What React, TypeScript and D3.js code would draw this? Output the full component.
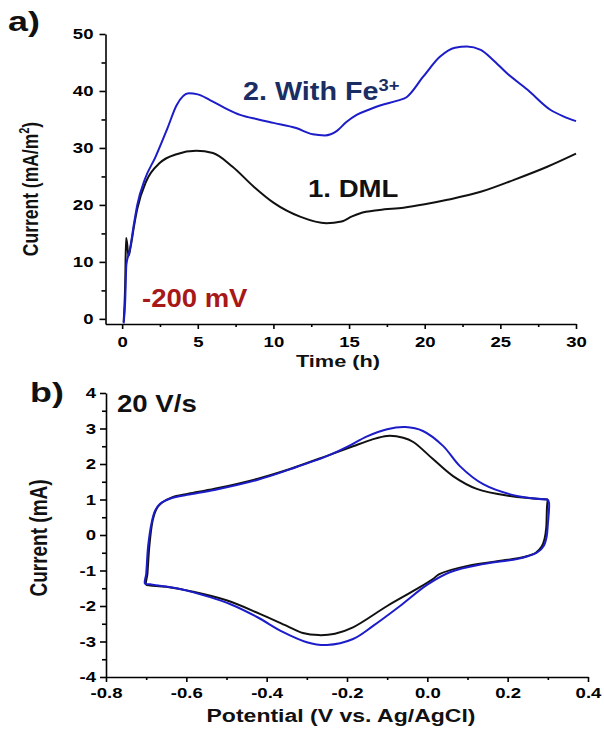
import React, { useEffect, useRef } from "react";
import * as d3 from "d3";

// panel a) current vs time at -200 mV
const timeTicks = [0, 5, 10, 15, 20, 25, 30];
const timeMinorTicks = [2.5, 7.5, 12.5, 17.5, 22.5, 27.5];
const densityTicks = [0, 10, 20, 30, 40, 50];
const densityMinorTicks = [5, 15, 25, 35, 45];

// [time (h), current (mA/m2)]
const dmlSeries: [number, number][] = [
  [0.1, -0.5], [0.2, 6], [0.26, 14.2], [0.33, 13.2], [0.42, 11], [0.55, 12.5],
  [0.8, 16.5], [1.0, 19.3], [1.6, 24.2], [2.5, 27.4], [3.6, 28.9], [4.9, 29.5],
  [6.0, 29.1], [7.3, 26.7], [8.7, 23.2], [10, 20.4], [11.8, 17.9], [13.5, 16.8],
  [14.5, 17.1], [15.2, 18.0], [15.7, 18.5], [17, 19.1], [18.6, 19.5], [20, 20.1],
  [21.5, 20.9], [23.7, 22.3], [25.9, 24.4], [28.1, 26.7], [30, 29],
];
const feSeries: [number, number][] = [
  [0.1, -0.8], [0.2, 3], [0.28, 9.5], [0.5, 12], [0.8, 17], [1.0, 20], [1.5, 24.5],
  [2.2, 28.4], [3.0, 33.5], [3.6, 37.5], [4.4, 39.6], [5.0, 39.4], [5.8, 38.4],
  [6.8, 37], [7.8, 35.8], [9, 35], [10, 34.4], [11.5, 33.5], [12.6, 32.4],
  [13.4, 32.2], [14.2, 33], [14.8, 34.5], [15.5, 35.8], [16.3, 36.7], [17.1, 37.5],
  [18.2, 38.3], [18.8, 38.9], [19.9, 42.5], [21.0, 46], [22.0, 47.6], [22.8, 47.8],
  [23.7, 47.2], [24.5, 45.5], [25.4, 43.2], [26.8, 40.2], [28.3, 36.7], [29.2, 35.5],
  [30, 34.7],
];

// panel b) cyclic voltammetry, 20 V/s
const potentialTicks = [-0.8, -0.6, -0.4, -0.2, 0, 0.2, 0.4];
const potentialMinorTicks = [-0.7, -0.5, -0.3, -0.1, 0.1, 0.3];
const cvCurrentTicks = [-4, -3, -2, -1, 0, 1, 2, 3, 4];
const cvCurrentMinorTicks = [-3.5, -2.5, -1.5, -0.5, 0.5, 1.5, 2.5, 3.5];

// [potential (V), current (mA)]
const cvDml: [number, number][] = [
  [0.3, 1.0], [0.298, 0.8], [0.296, 0.2], [0.292, -0.1], [0.285, -0.32], [0.27, -0.5],
  [0.24, -0.62], [0.2, -0.7], [0.1, -0.87], [0.03, -1.1], [0.014, -1.24], [-0.026, -1.52],
  [-0.1, -2.0], [-0.185, -2.6], [-0.23, -2.78], [-0.27, -2.82], [-0.31, -2.76],
  [-0.35, -2.56], [-0.417, -2.22], [-0.5, -1.84], [-0.583, -1.6], [-0.65, -1.46],
  [-0.69, -1.42], [-0.7, -1.4], [-0.697, -1.1], [-0.692, -0.3], [-0.684, 0.4],
  [-0.675, 0.72], [-0.662, 0.9], [-0.636, 1.06], [-0.595, 1.16], [-0.53, 1.3],
  [-0.424, 1.58], [-0.342, 1.86], [-0.25, 2.23], [-0.185, 2.5], [-0.14, 2.68],
  [-0.1, 2.79], [-0.06, 2.74], [-0.035, 2.62], [0.014, 2.14], [0.064, 1.66],
  [0.123, 1.3], [0.206, 1.1], [0.3, 1.0],
];
const cvFe: [number, number][] = [
  [0.3, 1.0], [0.303, 0.9], [0.3, 0.3], [0.297, -0.05], [0.29, -0.3], [0.275, -0.48],
  [0.25, -0.6], [0.223, -0.68], [0.139, -0.82], [0.056, -1.05], [0.0, -1.4],
  [-0.068, -2.0], [-0.135, -2.56], [-0.185, -2.93], [-0.25, -3.1], [-0.3, -3.02],
  [-0.36, -2.73], [-0.424, -2.31], [-0.49, -1.95], [-0.541, -1.75], [-0.616, -1.52],
  [-0.67, -1.42], [-0.69, -1.39], [-0.703, -1.37], [-0.7, -1.1], [-0.695, -0.3],
  [-0.686, 0.37], [-0.678, 0.68], [-0.666, 0.87], [-0.641, 1.02], [-0.598, 1.13],
  [-0.53, 1.27], [-0.424, 1.55], [-0.342, 1.85], [-0.25, 2.22], [-0.2, 2.48],
  [-0.15, 2.78], [-0.1, 2.98], [-0.055, 3.04], [-0.011, 2.93], [0.039, 2.51],
  [0.081, 1.94], [0.139, 1.43], [0.223, 1.1], [0.3, 1.0],
];

const FONT = "'Liberation Sans', Arial, Helvetica, sans-serif";
const STRETCH = 1.28; // the figure text is a bit wider than normal Arial

export default function App() {
  const ref = useRef<SVGSVGElement>(null);

  useEffect(() => {
    const svg = d3.select(ref.current).html("");

    const styleAxis = (g: any) => {
      g.attr("font-size", 14.5).attr("font-family", FONT).attr("font-weight", "bold");
      g.selectAll("path").attr("stroke", "#000").attr("stroke-width", 1.6);
      g.selectAll("line").attr("stroke", "#000").attr("stroke-width", 1.6);
      g.selectAll("text").attr("fill", "#000");
    };

    const xAxis = (scale: any, y: number, major: number[], minor: number[], fmt: any, pad: number) => {
      const g = svg.append("g").attr("transform", `translate(0,${y})`);
      g.call(d3.axisBottom(scale).tickValues(major).tickFormat(fmt).tickSize(5).tickSizeOuter(0).tickPadding(pad));
      g.append("g")
        .call(d3.axisBottom(scale).tickValues(minor).tickFormat(() => "").tickSize(3).tickSizeOuter(0))
        .select(".domain").remove();
      styleAxis(g);
      g.selectAll(".tick text").attr("transform", `scale(${STRETCH},1)`);
    };

    const yAxis = (scale: any, x: number, major: number[], minor: number[], fmt: any, pad: number) => {
      const g = svg.append("g").attr("transform", `translate(${x},0)`);
      g.call(d3.axisLeft(scale).tickValues(major).tickFormat(fmt).tickSize(6).tickSizeOuter(0).tickPadding(pad));
      g.append("g")
        .call(d3.axisLeft(scale).tickValues(minor).tickFormat(() => "").tickSize(4).tickSizeOuter(0))
        .select(".domain").remove();
      styleAxis(g);
      g.selectAll(".tick text")
        .attr("x", -(6 + pad) / STRETCH)
        .attr("transform", `scale(${STRETCH},1)`);
    };

    const label = (x: number, y: number, size: number, txt: string, color = "#111", sx = STRETCH) =>
      svg.append("text")
        .attr("transform", `translate(${x},${y}) scale(${sx},1)`)
        .attr("font-family", FONT).attr("font-weight", "bold")
        .attr("font-size", size).attr("fill", color)
        .text(txt);

    // ---- panel a ----
    const xA = d3.scaleLinear().domain([-1.1, 30]).range([105.5, 576]);
    const yA = d3.scaleLinear().domain([-0.9, 50]).range([324, 34]);

    xAxis(xA, 324, timeTicks, timeMinorTicks, d3.format("d"), 8);
    yAxis(yA, 105.5, densityTicks, densityMinorTicks, d3.format("d"), 6);

    const lineA = d3.line<[number, number]>()
      .x(d => xA(d[0])).y(d => yA(d[1]))
      .curve(d3.curveMonotoneX);

    svg.append("path").datum(dmlSeries).attr("d", lineA)
      .attr("fill", "none").attr("stroke", "#111").attr("stroke-width", 2);
    svg.append("path").datum(feSeries).attr("d", lineA)
      .attr("fill", "none").attr("stroke", "#1c1cc8").attr("stroke-width", 2);

    label(8, 31, 28, "a)");
    const fe = svg.append("text")
      .attr("transform", `translate(243,100) scale(1.15,1)`)
      .attr("font-family", FONT).attr("font-weight", "bold")
      .attr("font-size", 25).attr("fill", "#1a2e63");
    fe.append("tspan").text("2. With Fe");
    fe.append("tspan").attr("font-size", 16).attr("dy", -9).text("3+");
    label(308, 197, 24, "1. DML", "#111", 1.15);
    label(142, 307, 25, "-200 mV", "#a81818", 1.1);

    label(338, 367, 17, "Time (h)").attr("text-anchor", "middle");

    const yLabA = svg.append("text")
      .attr("transform", `translate(38,189) scale(1.25,1) rotate(-90)`)
      .attr("text-anchor", "middle")
      .attr("font-family", FONT).attr("font-weight", "bold")
      .attr("font-size", 17.5).attr("fill", "#111");
    yLabA.append("tspan").text("Current (mA/m");
    yLabA.append("tspan").attr("font-size", 11).attr("dy", -7).text("2");
    yLabA.append("tspan").attr("dy", 7).text(")");

    // ---- panel b ----
    const xB = d3.scaleLinear().domain([-0.8, 0.4]).range([106, 588]);
    const yB = d3.scaleLinear().domain([-4, 4]).range([677, 393]);

    xAxis(xB, 677, potentialTicks, potentialMinorTicks, (v: number) => v.toFixed(1), 6);
    yAxis(yB, 106, cvCurrentTicks, cvCurrentMinorTicks, (v: number) => String(v), 4);

    const lineB = d3.line<[number, number]>()
      .x(d => xB(d[0])).y(d => yB(d[1]))
      .curve(d3.curveCatmullRom.alpha(0.5));

    svg.append("path").datum(cvDml).attr("d", lineB)
      .attr("fill", "none").attr("stroke", "#111").attr("stroke-width", 2);
    svg.append("path").datum(cvFe).attr("d", lineB)
      .attr("fill", "none").attr("stroke", "#1c1cc8").attr("stroke-width", 2);

    label(30, 402, 28, "b)");
    label(117, 412, 23, "20 V/s", "#111", 1.2);
    label(341, 722, 18, "Potential (V vs. Ag/AgCl)").attr("text-anchor", "middle");

    svg.append("text")
      .attr("transform", `translate(47,538) scale(1.25,1) rotate(-90)`)
      .attr("text-anchor", "middle")
      .attr("font-family", FONT).attr("font-weight", "bold")
      .attr("font-size", 19).attr("fill", "#111")
      .text("Current (mA)");
  }, []);

  return (
    <svg
      ref={ref}
      width={604}
      height={729}
      style={{ position: "absolute", left: 0, top: 0, background: "#fff" }}
    />
  );
}
